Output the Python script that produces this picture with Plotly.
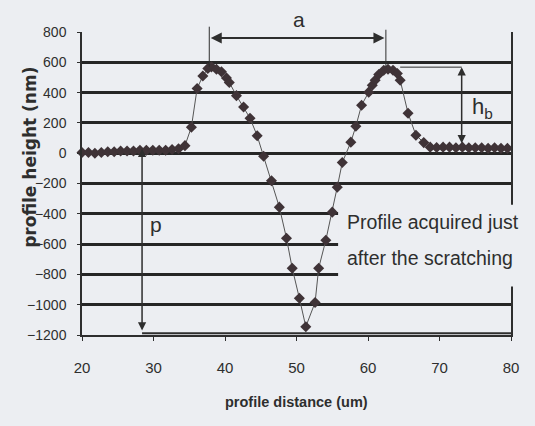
import plotly.graph_objects as go

# ---- data ----
distance_um = [20.0, 20.9, 21.8, 22.7, 23.6, 24.5, 25.4, 26.3, 27.2, 28.1, 29.0, 29.9,
               30.8, 31.7, 32.6, 33.5, 34.4,
               35.3, 36.1, 36.9, 37.6, 38.1, 38.8, 39.5, 40.2, 40.6,
               41.6, 42.6, 43.5, 44.5, 45.4, 46.5, 47.6, 48.6, 49.4, 50.4, 51.3,
               52.6, 53.1, 54.1, 55.0, 55.7, 56.4, 57.6, 58.3, 59.1, 60.1, 60.6,
               61.0, 61.5, 62.2, 62.8, 63.5, 64.1, 64.5, 65.6, 66.7, 67.8,
               68.7, 69.6, 70.5, 71.4, 72.3, 73.2, 74.1, 75.0, 75.9, 76.8, 77.7,
               78.6, 79.5]
height_nm = [5, 5, 0, 5, 10, 10, 15, 15, 15, 20, 20, 20,
             20, 20, 25, 30, 50,
             172, 427, 510, 559, 570, 554, 537, 497, 467,
             380, 305, 231, 115, -20, -182, -356, -561, -759, -957, -1145,
             -985, -759, -574, -389, -224, -62, 73, 178, 317, 403, 449,
             482, 519, 548, 554, 548, 526, 482, 264, 119, 70,
             40, 38, 40, 40, 36, 40, 36, 36, 36, 32, 36,
             32, 32]

x_ticks = [20, 30, 40, 50, 60, 70, 80]
y_ticks = [-1200, -1000, -800, -600, -400, -200, 0, 200, 400, 600, 800]

# annotation geometry (data units)
A_LEFT, A_RIGHT, A_LEVEL = 37.8, 62.3, 760
HB_X, HB_TOP, HB_BOTTOM, HB_LINE_START = 73.1, 568, 55, 64.5
P_X, P_TOP, P_BOTTOM = 28.4, 30, -1180

BG = "#eceef2"
INK = "#2e2e2e"
SANS = "Liberation Sans, Arial, sans-serif"

def ypaper(v):
    return (v + 1200) / 2000.0

fig = go.Figure()
fig.add_trace(go.Scatter(
    x=distance_um, y=height_nm, mode="lines+markers",
    line=dict(color="#555555", width=1),
    marker=dict(symbol="diamond", size=8.5, color="#3f3337"),
    showlegend=False, cliponaxis=False,
))

shapes = [
    # vertical guides for "a"
    dict(type="line", xref="x", yref="paper", x0=A_LEFT, x1=A_LEFT,
         y0=ypaper(570), y1=ypaper(835), line=dict(color=INK, width=1)),
    dict(type="line", xref="x", yref="paper", x0=62.5, x1=62.5,
         y0=ypaper(568), y1=ypaper(815), line=dict(color=INK, width=1)),
    # h_b top guide
    dict(type="line", xref="x", yref="y", x0=HB_LINE_START, x1=HB_X,
         y0=HB_TOP, y1=HB_TOP, line=dict(color=INK, width=1)),
    # p bottom guide
    dict(type="line", xref="x", yref="y", x0=P_X, x1=80,
         y0=-1188, y1=-1188, line=dict(color=INK, width=2)),
    # blank box behind the caption
    dict(type="rect", xref="paper", yref="y", x0=0.597, x1=1.05,
         y0=-880, y1=-340, fillcolor=BG, line=dict(width=0), layer="above"),
]

ann = []
def arrow(x0, y0, x1, y1, w=2):
    ann.append(dict(x=x1, y=y1, ax=x0, ay=y0, xref="x", yref="y",
                    axref="x", ayref="y", text="", showarrow=True,
                    arrowhead=2, arrowside="end+start", arrowsize=1.1,
                    arrowwidth=w, arrowcolor=INK, standoff=0, startstandoff=0))

arrow(A_LEFT, A_LEVEL, A_RIGHT, A_LEVEL, 2)
arrow(HB_X, HB_BOTTOM, HB_X, HB_TOP, 1.5)
arrow(P_X, P_BOTTOM, P_X, P_TOP, 1.5)

def label(text, x, y, size, xref="x", yref="y", xanchor="center", bold=False,
          family=SANS, angle=0):
    ann.append(dict(text=f"<b>{text}</b>" if bold else text, x=x, y=y,
                    xref=xref, yref=yref, showarrow=False, xanchor=xanchor,
                    yanchor="middle", textangle=angle,
                    font=dict(family=family, size=size, color=INK)))

label("a", 50.4, 1.04, 21, yref="paper")
label("h<sub>b</sub>", 76.0, 297, 22)
label("p", 30.4, -470, 21)
label("Profile acquired just", 0.613, -455, 19.5, xref="paper", xanchor="left")
label("after the scratching", 0.613, -693, 19.5, xref="paper", xanchor="left")
label("profile distance (um)", 0.501, -0.221, 14.5, xref="paper", yref="paper", bold=True)
label("profile height (nm)", -0.122, 0.587, 17, xref="paper", yref="paper", bold=True,
      family="DejaVu Sans, sans-serif", angle=-90)

fig.update_layout(
    width=535, height=426,
    margin=dict(l=82, r=24, t=32, b=91),
    paper_bgcolor=BG, plot_bgcolor=BG,
    shapes=shapes, annotations=ann,
    xaxis=dict(range=[20, 80], tickvals=x_ticks, showgrid=False, zeroline=False,
               showline=True, linecolor=INK, linewidth=1.5, mirror=False,
               ticks="outside", ticklen=4, tickcolor=INK,
               ticklabelstandoff=14,
               tickfont=dict(family=SANS, size=15, color=INK)),
    yaxis=dict(range=[-1200, 800], tickvals=y_ticks, showgrid=True,
               gridcolor="#262626", gridwidth=2.5, zeroline=False,
               showline=True, linecolor=INK, linewidth=1.5, mirror=True,
               ticks="outside", ticklen=3, tickcolor=INK,
               ticklabelstandoff=8,
               tickfont=dict(family=SANS, size=14, color=INK)),
)

fig.write_html("out.html")
